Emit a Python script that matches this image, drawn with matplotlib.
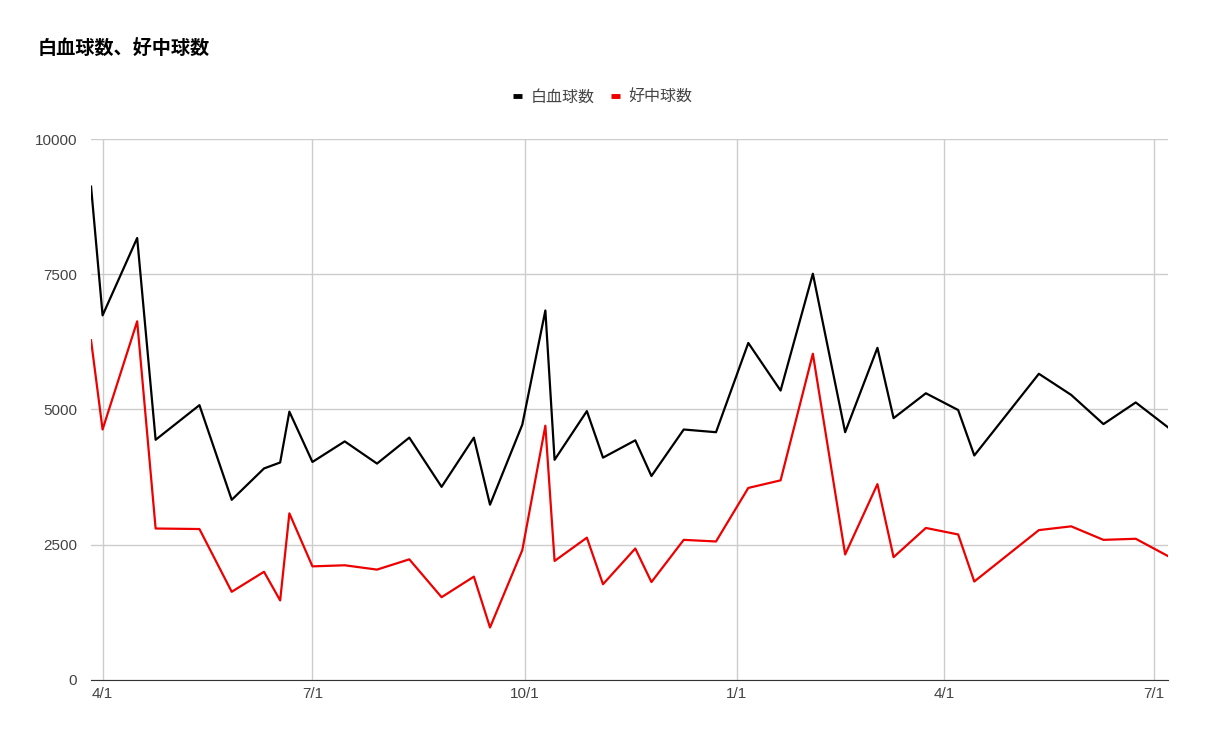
import matplotlib
matplotlib.use('Agg')
import matplotlib.pyplot as plt
import matplotlib.dates as mdates
import pandas as pd

plt.rcParams['font.family'] = ['Liberation Sans', 'Noto Sans CJK JP']
cjk = ['Noto Sans CJK JP', 'DejaVu Sans']

dates = ['2022-03-27', '2022-04-01', '2022-04-16', '2022-04-24', '2022-05-13',
         '2022-05-27', '2022-06-10', '2022-06-17', '2022-06-21', '2022-07-01',
         '2022-07-15', '2022-07-29', '2022-08-12', '2022-08-26', '2022-09-09',
         '2022-09-16', '2022-09-30', '2022-10-10', '2022-10-14', '2022-10-28',
         '2022-11-04', '2022-11-18', '2022-11-25', '2022-12-09', '2022-12-23',
         '2023-01-06', '2023-01-20', '2023-02-03', '2023-02-17', '2023-03-03',
         '2023-03-10', '2023-03-24', '2023-04-07', '2023-04-14', '2023-05-12',
         '2023-05-26', '2023-06-09', '2023-06-23', '2023-07-07']
wbc = [9120, 6740, 8170, 4440, 5080, 3330, 3910, 4020, 4960, 4030,
       4410, 4000, 4480, 3570, 4480, 3240, 4720, 6830, 4070, 4970,
       4110, 4430, 3770, 4630, 4580, 6230, 5350, 7510, 4580, 6140,
       4840, 5300, 4990, 4150, 5660, 5270, 4730, 5130, 4670]
neut = [6280, 4630, 6630, 2800, 2790, 1630, 2000, 1470, 3080, 2100,
        2120, 2040, 2230, 1530, 1910, 970, 2400, 4700, 2200, 2630,
        1770, 2430, 1810, 2590, 2560, 3550, 3690, 6030, 2320, 3620,
        2270, 2810, 2690, 1820, 2770, 2840, 2590, 2610, 2290]
tick_dates = ['2022-04-01', '2022-07-01', '2022-10-01', '2023-01-01',
              '2023-04-01', '2023-07-01']
yticks = [0, 2500, 5000, 7500, 10000]

x = pd.to_datetime(dates)

fig = plt.figure(figsize=(12.06, 7.45), dpi=100)
ax = fig.add_axes([0.0755, 0.0873, 0.8930, 0.7261])

ax.plot(x, wbc, color='black', lw=1.6, label='白血球数')
ax.plot(x, neut, color='#ee0000', lw=1.6, label='好中球数')

ax.set_xlim(x[0], x[-1])
ax.set_ylim(0, 10000)
ax.set_yticks(yticks)
ax.set_xticks(pd.to_datetime(tick_dates))
ax.xaxis.set_major_formatter(mdates.DateFormatter('%-m/%-d'))
ax.tick_params(length=0, labelsize=11, labelcolor='#444444')
ax.tick_params(axis='x', pad=5)
ax.tick_params(axis='y', pad=10)
ax.grid(True, color='#cccccc', lw=1)
ax.set_axisbelow(True)
for s in ['top', 'right', 'left']:
    ax.spines[s].set_visible(False)
ax.spines['bottom'].set_color('#333333')

fig.text(0.0315, 0.933, '白血球数、好中球数', fontsize=13.8, fontweight='bold',
         color='black', va='center', family=cjk)

leg = fig.legend(loc='center', bbox_to_anchor=(0.5, 0.870), ncol=2,
                 frameon=False, prop={'family': cjk, 'size': 11.5},
                 handlelength=0.55, handletextpad=0.55, columnspacing=1.0)
for h in leg.get_lines():
    h.set_linewidth(3.5)
    h.set_solid_capstyle('butt')
for t in leg.get_texts():
    t.set_color('#444444')

fig.savefig('out.png', dpi=100)
